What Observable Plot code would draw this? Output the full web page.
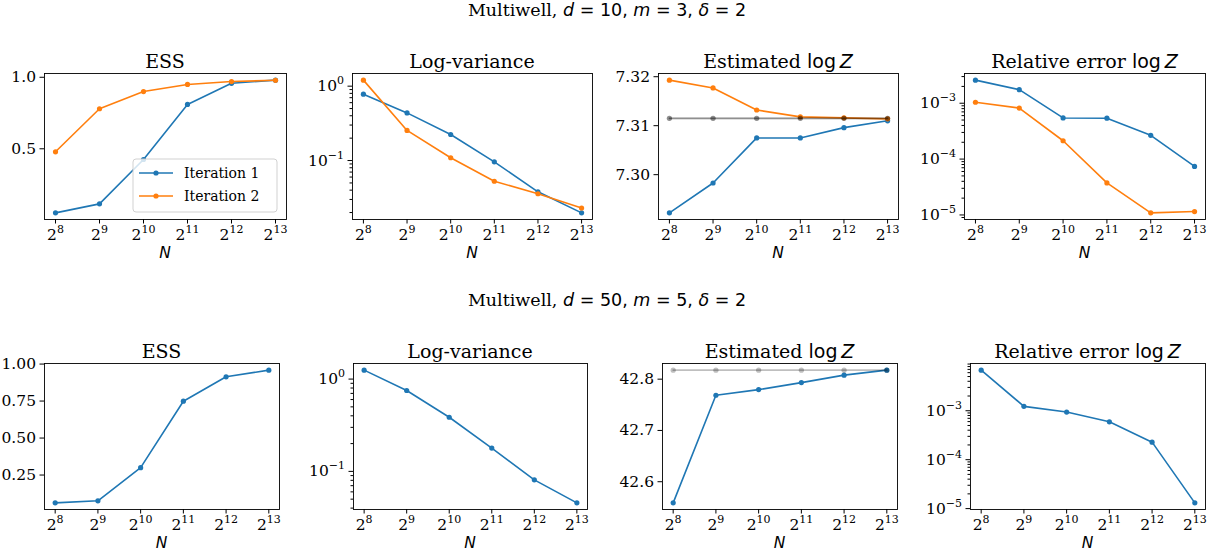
<!DOCTYPE html>
<html><head><meta charset="utf-8">
<script src="https://cdn.jsdelivr.net/npm/d3@7"></script>
<script src="https://cdn.jsdelivr.net/npm/@observablehq/plot@0.6"></script>
<style>
body{margin:0;background:#fff}
#fig{position:relative;width:1212px;height:557px;overflow:hidden;background:#fff}
#fig svg{position:absolute;overflow:visible}
</style>
</head><body><div id="fig"></div>
<script>
// ---------- data ----------
const N = [256, 512, 1024, 2048, 4096, 8192];
const seriesNames = ["Iteration 1", "Iteration 2"];
const colors = ["#1f77b4", "#ff7f0e"];

// Multiwell d=10, m=3, delta=2
const essTop1 = [0.052, 0.115, 0.425, 0.81, 0.958, 0.98];
const essTop2 = [0.479, 0.78, 0.90, 0.95, 0.97, 0.979];
const logvarTop1 = [0.78, 0.437, 0.224, 0.096, 0.038, 0.0198];
const logvarTop2 = [1.205, 0.254, 0.109, 0.0527, 0.0358, 0.023];
const logZTop1 = [7.2922, 7.2983, 7.3075, 7.3075, 7.3096, 7.3110];
const logZTop2 = [7.3193, 7.3177, 7.3132, 7.3118, 7.3116, 7.3114];
const logZTrueTop = 7.3115;
const relErrTop1 = [2.59e-3, 1.75e-3, 5.45e-4, 5.4e-4, 2.66e-4, 7.4e-5];
const relErrTop2 = [1.04e-3, 8.2e-4, 2.13e-4, 3.75e-5, 1.09e-5, 1.15e-5];

// Multiwell d=50, m=5, delta=2
const essBot = [0.062, 0.076, 0.30, 0.749, 0.914, 0.959];
const logvarBot = [1.25, 0.752, 0.386, 0.179, 0.081, 0.0456];
const logZBot = [42.5588, 42.7686, 42.7796, 42.7933, 42.8078, 42.8176];
const logZTrueBot = 42.8176;
const relErrBot = [6.76e-3, 1.23e-3, 9.4e-4, 5.94e-4, 2.28e-4, 1.31e-5];

// tick labels
const ticksEssTop = [0.5, 1.0];
const ticksEssBot = [0.25, 0.5, 0.75, 1.0];
const ticksLogvar = [0.1, 1];
const ticksLogZTop = [7.30, 7.31, 7.32];
const ticksLogZBot = [42.6, 42.7, 42.8];
const ticksRelErr = [1e-5, 1e-4, 1e-3];

const supTitles = [
  [["Multiwell, ","serif"],["d","si"],[" = 10, ","sans"],["m","si"],[" = 3, ","sans"],["δ","si"],[" = 2","sans"]],
  [["Multiwell, ","serif"],["d","si"],[" = 50, ","sans"],["m","si"],[" = 5, ","sans"],["δ","si"],[" = 2","sans"]]
];
const tESS = [["ESS","serif"]];
const tLV = [["Log-variance","serif"]];
const tEst = [["Estimated ","serif"],["log","sans"],["\u2009","sans"],["Z","si"]];
const tRel = [["Relative error ","serif"],["log","sans"],["\u2009","sans"],["Z","si"]];
const xLabel = "N";

// ---------- rendering ----------
const SERIF = "DejaVu Serif", SANS = "DejaVu Sans";
const TICK_FS = 15.5, SUP_FS = 11, TITLE_FS = 19, LEGEND_FS = 14;
const fig = document.getElementById("fig");

function supFmt(base, e) { return base + "^" + e; }
function logFmt(d) { const e = Math.round(Math.log10(d)); return supFmt("10", e < 0 ? "\u2212" + (-e) : String(e)); }

function styleSpan(sel, kind) {
  if (kind === "serif") sel.attr("font-family", SERIF);
  else if (kind === "sans") sel.attr("font-family", SANS);
  else if (kind === "si") sel.attr("font-family", SANS).attr("font-style", "italic");
}
function richText(g, pieces) {
  pieces.forEach(([t, k]) => styleSpan(g.append("tspan").text(t), k || "serif"));
}

function panel(cfg) {
  const [fl, ft, fw, fh] = cfg.box;
  const ml = 70, mr = 16, mt = 40, mb = 52;
  const isLog = cfg.yType === "log";
  let all = cfg.series.flatMap(s => s.values);
  if (cfg.ref != null) all = all.concat([cfg.ref]);
  let lo = d3.min(all), hi = d3.max(all), domain;
  if (isLog) {
    const a = Math.log10(lo), b = Math.log10(hi), m = (b - a) * 0.05;
    domain = [10 ** (a - m), 10 ** (b + m)];
  } else {
    const m = (hi - lo) * 0.05;
    domain = [lo - m, hi + m];
  }
  const font = {fontFamily: SERIF, fontSize: TICK_FS};
  const marks = [];
  marks.push(Plot.axisX({ticks: N, tickFormat: d => supFmt("2", Math.round(Math.log2(d))), tickSize: 4.5, tickPadding: 5, label: null, ...font}));
  marks.push(Plot.axisY({ticks: cfg.yTicks, tickFormat: isLog ? logFmt : cfg.yFormat, tickSize: 4.5, tickPadding: 4, label: null, ...font}));
  if (isLog) {
    const minor = [];
    for (let k = Math.floor(Math.log10(domain[0])); k <= Math.ceil(Math.log10(domain[1])); k++)
      for (let j = 2; j <= 9; j++) { const v = j * 10 ** k; if (v >= domain[0] && v <= domain[1]) minor.push(v); }
    marks.push(Plot.axisY({ticks: minor, tickFormat: () => "", tickSize: 2.5, label: null}));
  }
  cfg.series.forEach(s => {
    const data = N.map((n, i) => ({N: n, v: s.values[i]}));
    marks.push(Plot.line(data, {x: "N", y: "v", stroke: s.color, strokeWidth: 1.6}));
    marks.push(Plot.dot(data, {x: "N", y: "v", fill: s.color, r: 2.6}));
  });
  if (cfg.ref != null) {
    const data = N.map(n => ({N: n, v: cfg.ref}));
    for (let r = 0; r < cfg.refRepeat; r++) {
      marks.push(Plot.line(data, {x: "N", y: "v", stroke: "black", strokeOpacity: 0.25, strokeWidth: 1.6}));
      marks.push(Plot.dot(data, {x: "N", y: "v", fill: "black", fillOpacity: 0.25, r: 2.6}));
    }
  }
  marks.push(Plot.frame({stroke: "black", strokeWidth: 0.9}));
  const svg = Plot.plot({
    width: fw + ml + mr, height: fh + mt + mb,
    marginLeft: ml, marginRight: mr, marginTop: mt, marginBottom: mb,
    x: {type: "log", base: 2, domain: [2 ** 7.75, 2 ** 13.25]},
    y: {type: isLog ? "log" : "linear", domain},
    style: `font-family:${SERIF};font-size:${TICK_FS}px;color:black;background:transparent;overflow:visible;position:absolute;`,
    marks
  });
  svg.style.left = (fl - ml) + "px";
  svg.style.top = (ft - mt) + "px";
  const s = d3.select(svg);
  // force tick label fonts
  s.selectAll("g[aria-label$='tick label']").attr("font-size", TICK_FS).attr("font-family", SERIF).attr("fill", "black");
  s.selectAll("g[aria-label$='tick label'] text").attr("font-size", TICK_FS).attr("font-family", SERIF);
  s.selectAll("g[aria-label$='tick']").attr("stroke", "black");
  // superscripts
  s.selectAll("text").each(function() {
    const t = this.textContent, m = t.match(/^(\d+)\^(.+)$/);
    if (m) {
      this.textContent = m[1];
      d3.select(this).append("tspan").attr("dy", "-7px").attr("font-size", SUP_FS + "px").text(m[2]);
    }
  });
  // title
  const tt = s.append("text").attr("x", ml + fw / 2).attr("y", mt - 5)
    .attr("text-anchor", "middle").attr("font-size", TITLE_FS + "px").attr("fill", "black");
  richText(tt, cfg.title);
  // x label
  s.append("text").attr("x", ml + fw / 2).attr("y", mt + fh + 39)
    .attr("text-anchor", "middle").attr("font-size", "15.5px").attr("font-family", SANS)
    .attr("font-style", "italic").attr("fill", "black").text(xLabel);
  // legend
  if (cfg.legend) {
    const lw = 144, lh = 53;
    const g = s.append("g").attr("transform", `translate(${ml + fw - 9 - lw},${mt + fh - 7 - lh})`);
    g.append("rect").attr("width", lw).attr("height", lh).attr("rx", 3)
      .attr("fill", "white").attr("fill-opacity", 0.8).attr("stroke", "#cccccc").attr("stroke-width", 0.9);
    cfg.series.forEach((se, i) => {
      const y = 14 + i * 23;
      g.append("line").attr("x1", 6).attr("x2", 40).attr("y1", y).attr("y2", y)
        .attr("stroke", se.color).attr("stroke-width", 1.6);
      g.append("circle").attr("cx", 23).attr("cy", y).attr("r", 2.6).attr("fill", se.color);
      g.append("text").attr("x", 51).attr("y", y + 5).attr("font-size", LEGEND_FS + "px")
        .attr("text-anchor", "start").attr("font-family", SERIF).attr("fill", "black").text(se.name);
    });
  }
  fig.appendChild(svg);
}

const two = (a, b) => [{name: seriesNames[0], color: colors[0], values: a}, {name: seriesNames[1], color: colors[1], values: b}];
const one = a => [{name: seriesNames[0], color: colors[0], values: a}];

panel({box: [44, 73, 242, 146], title: tESS, series: two(essTop1, essTop2), yTicks: ticksEssTop, yFormat: d => d.toFixed(1), legend: true});
panel({box: [352, 73, 240, 146], title: tLV, series: two(logvarTop1, logvarTop2), yType: "log", yTicks: ticksLogvar});
panel({box: [658, 73, 240, 146], title: tEst, series: two(logZTop1, logZTop2), yTicks: ticksLogZTop, yFormat: d => d.toFixed(2), ref: logZTrueTop, refRepeat: 2});
panel({box: [964, 73, 241, 146], title: tRel, series: two(relErrTop1, relErrTop2), yType: "log", yTicks: ticksRelErr});

panel({box: [44, 363, 235, 146], title: tESS, series: one(essBot), yTicks: ticksEssBot, yFormat: d => d.toFixed(2)});
panel({box: [353, 363, 234, 146], title: tLV, series: one(logvarBot), yType: "log", yTicks: ticksLogvar});
panel({box: [662, 363, 235, 146], title: tEst, series: one(logZBot), yTicks: ticksLogZBot, yFormat: d => d.toFixed(1), ref: logZTrueBot, refRepeat: 1});
panel({box: [970, 363, 235, 146], title: tRel, series: one(relErrBot), yType: "log", yTicks: ticksRelErr});

// suptitles
const over = d3.select(fig).append("svg").attr("width", 1212).attr("height", 557).style("left", "0px").style("top", "0px");
[[16, supTitles[0]], [306, supTitles[1]]].forEach(([y, pieces]) => {
  const t = over.append("text").attr("x", 607).attr("y", y).attr("text-anchor", "middle")
    .attr("font-size", "17.5px").attr("fill", "black");
  richText(t, pieces);
});
</script></body></html>
